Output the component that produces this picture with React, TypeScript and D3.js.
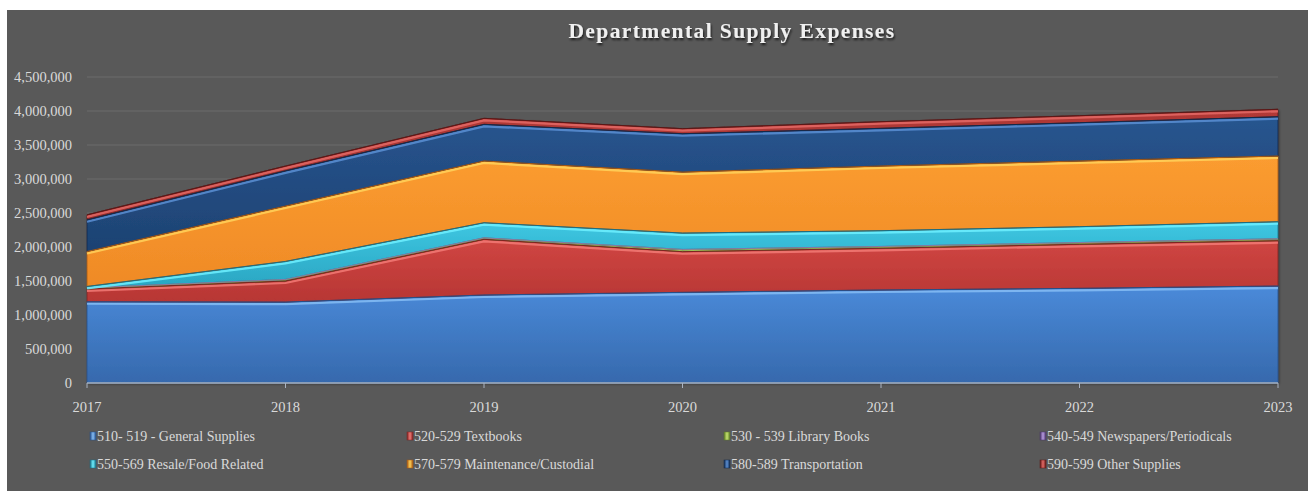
import React from "react";
import * as d3 from "d3";

const years = [2017, 2018, 2019, 2020, 2021, 2022, 2023];
const seriesNames = [
  "510- 519 - General Supplies",
  "520-529 Textbooks",
  "530 - 539 Library Books",
  "540-549 Newspapers/Periodicals",
  "550-569 Resale/Food Related",
  "570-579 Maintenance/Custodial",
  "580-589 Transportation",
  "590-599 Other Supplies",
];
const generalSupplies = [1195000, 1190000, 1294000, 1333000, 1368000, 1392000, 1426000];
const textbooks = [187000, 310000, 819000, 598000, 613000, 648000, 667000];
const libraryBooks = [15000, 20000, 19000, 30000, 24000, 23000, 25000];
const newspapers = [3000, 3000, 3000, 3000, 3000, 3000, 3000];
const resaleFood = [20000, 265000, 222000, 241000, 232000, 233000, 251000];
const maintenance = [514000, 815000, 908000, 897000, 951000, 966000, 966000];
const transportation = [466000, 517000, 539000, 564000, 554000, 563000, 578000];
const otherSupplies = [73000, 70000, 88000, 74000, 98000, 103000, 109000];
const yTicks = [0, 500000, 1000000, 1500000, 2000000, 2500000, 3000000, 3500000, 4000000, 4500000];

const seriesValues = [generalSupplies, textbooks, libraryBooks, newspapers, resaleFood, maintenance, transportation, otherSupplies];

const palette = [
  { top: "#4a8ad9", bottom: "#3669ad", hi: "#86bdf5", edge: "#27508a" },
  { top: "#d04642", bottom: "#b73634", hi: "#f27a76", edge: "#7e2322" },
  { top: "#a5c75e", bottom: "#86a84a", hi: "#c6e46e", edge: "#5d7a2a" },
  { top: "#8a6bb0", bottom: "#6c5390", hi: "#b79be0", edge: "#4a3468" },
  { top: "#3ec7e2", bottom: "#2aa6c2", hi: "#6ef0ff", edge: "#1a6e84" },
  { top: "#fb9c30", bottom: "#ef8a26", hi: "#ffd25a", edge: "#a85a14" },
  { top: "#28558f", bottom: "#1d4272", hi: "#5b8fd4", edge: "#122a4c" },
  { top: "#b33a37", bottom: "#8e2a29", hi: "#e46a66", edge: "#5c1817" },
];
const thinLayers = [2, 3];

export default function App() {
  const W = 1308, H = 491;
  const x = d3.scaleLinear().domain([2017, 2023]).range([87, 1278]);
  const y = d3.scaleLinear().domain([0, 4500000]).range([383, 77]);

  const table = years.map((yr, i) => {
    const row: any = { year: yr };
    seriesNames.forEach((n, k) => (row[n] = seriesValues[k][i]));
    return row;
  });
  const stacked = d3.stack<any>().keys(seriesNames)(table);

  const area = d3
    .area<any>()
    .x((d) => x(d.data.year))
    .y0((d) => y(d[0]))
    .y1((d) => y(d[1]));
  const topLine = d3
    .line<any>()
    .x((d) => x(d.data.year))
    .y((d) => y(d[1]));
  const hiLine = d3
    .line<any>()
    .x((d) => x(d.data.year))
    .y((d) => y(d[1]) + 2);

  const fmt = d3.format(",");
  const labelFont = "'Liberation Serif', 'Times New Roman', serif";

  const legendCols = [90, 407, 724, 1040];
  const legendRows = [437, 465];

  return (
    <svg
      width={W}
      height={H}
      style={{ position: "absolute", left: 0, top: 0 }}
      xmlns="http://www.w3.org/2000/svg"
    >
      <defs>
        {palette.map((p, i) => (
          <linearGradient key={i} id={`g${i}`} x1="0" y1="0" x2="0" y2="1">
            <stop offset="0%" stopColor={p.top} />
            <stop offset="100%" stopColor={p.bottom} />
          </linearGradient>
        ))}
        {palette.map((p, i) => (
          <linearGradient key={"l" + i} id={`lg${i}`} x1="0" y1="0" x2="1" y2="0">
            <stop offset="0%" stopColor={p.edge} />
            <stop offset="50%" stopColor={p.hi} />
            <stop offset="100%" stopColor={p.edge} />
          </linearGradient>
        ))}
        <filter id="tshadow" x="-10%" y="-30%" width="120%" height="160%">
          <feDropShadow dx="1" dy="2" stdDeviation="1.2" floodColor="#000" floodOpacity="0.7" />
        </filter>
        <filter id="ashadow" x="-5%" y="-5%" width="110%" height="110%">
          <feDropShadow dx="1" dy="1" stdDeviation="1" floodColor="#000" floodOpacity="0.35" />
        </filter>
      </defs>
      <rect x={0} y={0} width={W} height={H} fill="#ffffff" />
      <rect x={7} y={10} width={W - 7} height={H - 10} fill="#595959" />

      <text
        x={732}
        y={38}
        textAnchor="middle"
        fill="#f0f0f0"
        fontFamily={labelFont}
        fontWeight="bold"
        fontSize={21.5}
        letterSpacing={1.4}
        filter="url(#tshadow)"
      >
        Departmental Supply Expenses
      </text>

      {yTicks.map((t) => (
        <g key={t}>
          {t > 0 && (
            <line x1={87} x2={1278} y1={y(t)} y2={y(t)} stroke="#6c6c6c" strokeWidth={1} />
          )}
          <text
            x={72}
            y={y(t) + 5}
            textAnchor="end"
            fill="#d9d9d9"
            fontFamily={labelFont}
            fontSize={14.5}
          >
            {fmt(t)}
          </text>
        </g>
      ))}

      <g filter="url(#ashadow)">
        {stacked.map((s, i) => (
          <path key={i} d={area(s as any) || ""} fill={`url(#g${i})`} stroke={palette[i].edge} strokeWidth={0.8} />
        ))}
      </g>
      {stacked.map((s, i) => (
        <g key={"e" + i}>
          {!thinLayers.includes(i) && (
            <path d={hiLine(s as any) || ""} fill="none" stroke={palette[i].hi} strokeWidth={2.2} opacity={0.85} />
          )}
          <path
            d={topLine(s as any) || ""}
            fill="none"
            stroke={thinLayers.includes(i) ? palette[i].top : palette[i].edge}
            strokeWidth={thinLayers.includes(i) ? 0.8 : 1}
          />
        </g>
      ))}

      <line x1={87} x2={1278} y1={383} y2={383} stroke="#a9b3c2" strokeWidth={1.5} />
      {years.map((yr) => (
        <g key={yr}>
          <line x1={x(yr)} x2={x(yr)} y1={383} y2={388} stroke="#a9b3c2" strokeWidth={1} />
          <text
            x={x(yr)}
            y={412}
            textAnchor="middle"
            fill="#d9d9d9"
            fontFamily={labelFont}
            fontSize={14.5}
          >
            {yr}
          </text>
        </g>
      ))}

      {seriesNames.map((n, i) => {
        const col = i % 4;
        const row = Math.floor(i / 4);
        const lx = legendCols[col];
        const ly = legendRows[row];
        return (
          <g key={n}>
            <rect x={lx} y={ly - 5} width={6} height={8} fill={`url(#lg${i})`} stroke={palette[i].edge} strokeWidth={0.5} />
            <text x={lx + 7} y={ly + 4} fill="#d9d9d9" fontFamily={labelFont} fontSize={14}>
              {n}
            </text>
          </g>
        );
      })}
    </svg>
  );
}
